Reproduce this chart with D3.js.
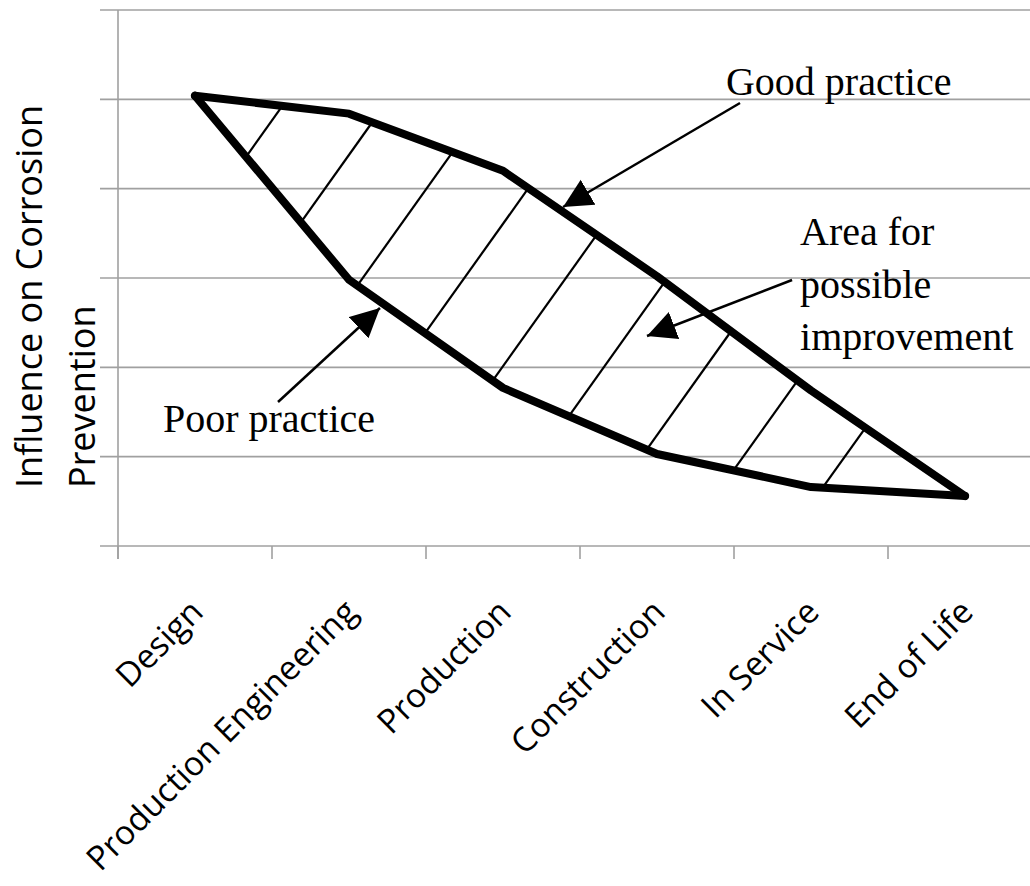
<!DOCTYPE html>
<html><head><meta charset="utf-8">
<script src="https://cdn.jsdelivr.net/npm/d3@7"></script>
<style>html,body{margin:0;padding:0;background:#fff}</style>
</head><body>
<svg id="c" width="1030" height="886"></svg>
<script>
// ---- data ----
const categories = ["Design", "Production Engineering", "Production", "Construction", "In Service", "End of Life"];
const goodPractice = [5.04, 4.84, 4.20, 3.02, 1.74, 0.56];
const poorPractice = [5.04, 2.98, 1.77, 1.03, 0.66, 0.56];
const yTicks = [0, 1, 2, 3, 4, 5, 6];
const yTitleLines = ["Influence on Corrosion", "Prevention"];
const annoGoodText = ["Good practice"];
const annoAreaText = ["Area for", "possible", "improvement"];
const annoPoorText = ["Poor practice"];

// ---- layout ----
const W = 1030, H = 886;
const svg = d3.select("#c");
const x = d3.scaleBand().domain(categories).range([118, 1042]).padding(0);
const cx = c => x(c) + x.bandwidth() / 2;
const xi = d3.scaleLinear().domain([0, categories.length - 1]).range([cx(categories[0]), cx(categories[categories.length - 1])]);
const y = d3.scaleLinear().domain([0, 6]).range([546, 10]);

const grid = "#a0a0a0";
// gridlines + y ticks
svg.append("g").selectAll("line").data(yTicks).join("line")
  .attr("x1", 100).attr("x2", W).attr("y1", d => y(d)).attr("y2", d => y(d))
  .attr("stroke", grid).attr("stroke-width", 1.6);
// y axis line
svg.append("line").attr("x1", 118).attr("x2", 118).attr("y1", y(6)).attr("y2", y(0) + 13)
  .attr("stroke", grid).attr("stroke-width", 1.6);
// x ticks at band edges
svg.append("g").selectAll("line").data(categories).join("line")
  .attr("x1", d => x(d)).attr("x2", d => x(d)).attr("y1", y(0)).attr("y2", y(0) + 13)
  .attr("stroke", grid).attr("stroke-width", 1.6);

// x labels
svg.append("g").selectAll("text").data(categories).join("text")
  .attr("transform", d => `translate(${cx(d) + 10},${y(0) + 68}) rotate(-45)`)
  .attr("text-anchor", "end")
  .attr("font-family", "'Open Sans', sans-serif").attr("font-size", 33.5).attr("fill", "#000")
  .text(d => d);

// y title
svg.append("g").selectAll("text").data(yTitleLines).join("text")
  .attr("transform", (d, i) => `translate(${42 + i * 53},488) rotate(-90)`)
  .attr("text-anchor", "start")
  .attr("font-family", "'Open Sans', sans-serif").attr("font-size", 36).attr("fill", "#000")
  .text(d => d);

// ---- hatching between the two practice lines ----
const upperPts = goodPractice.map((v, i) => [xi(i), y(v)]);
const lowerPts = poorPractice.map((v, i) => [xi(i), y(v)]);
const hAng = 35.5 * Math.PI / 180, nx = Math.cos(hAng), ny = Math.sin(hAng);
const proj = p => nx * p[0] + ny * p[1];
function crossing(pts, c) {
  for (let i = 0; i < pts.length - 1; i++) {
    const u0 = proj(pts[i]), u1 = proj(pts[i + 1]);
    if (u0 !== u1 && (u0 - c) * (u1 - c) <= 0) {
      const t = (c - u0) / (u1 - u0);
      return [pts[i][0] + t * (pts[i + 1][0] - pts[i][0]), pts[i][1] + t * (pts[i + 1][1] - pts[i][1])];
    }
  }
  return null;
}
const u0 = proj(upperPts[0]);
const hatchOffsets = d3.range(9).map(k => u0 + 77 + k * 82.7);
const hatches = hatchOffsets.map(c => [crossing(lowerPts, c), crossing(upperPts, c)]).filter(h => h[0] && h[1]);
svg.append("g").selectAll("line").data(hatches).join("line")
  .attr("x1", d => d[0][0]).attr("y1", d => d[0][1]).attr("x2", d => d[1][0]).attr("y2", d => d[1][1])
  .attr("stroke", "#000").attr("stroke-width", 2.2);

// ---- practice lines ----
const line = d3.line().x((d, i) => xi(i)).y(d => y(d));
[goodPractice, poorPractice].forEach(s => {
  svg.append("path").attr("d", line(s)).attr("fill", "none").attr("stroke", "#000")
    .attr("stroke-width", 8).attr("stroke-linejoin", "round").attr("stroke-linecap", "round");
});

// ---- annotations (in data coordinates: category index, value) ----
const defs = svg.append("defs");
defs.append("marker").attr("id", "ah").attr("markerUnits", "userSpaceOnUse")
  .attr("viewBox", "0 -15 30 30").attr("refX", 29).attr("refY", 0)
  .attr("markerWidth", 30).attr("markerHeight", 30).attr("orient", "auto")
  .append("path").attr("d", "M0,-14.5L29,0L0,14.5Z").attr("fill", "#000");

const arrows = [
  { from: [3.539, 4.959], to: [2.390, 3.795] },
  { from: [3.877, 2.978], to: [2.935, 2.351] },
  { from: [0.539, 1.612], to: [1.201, 2.664] }
];
svg.append("g").selectAll("line").data(arrows).join("line")
  .attr("x1", d => xi(d.from[0])).attr("y1", d => y(d.from[1]))
  .attr("x2", d => xi(d.to[0])).attr("y2", d => y(d.to[1]))
  .attr("stroke", "#000").attr("stroke-width", 2.5).attr("marker-end", "url(#ah)");

const serif = "'Liberation Serif', 'Times New Roman', serif";
function annoText(lines, ix, v, lh) {
  svg.append("g").selectAll("text").data(lines).join("text")
    .attr("x", xi(ix)).attr("y", (d, i) => y(v) + i * lh)
    .attr("font-family", serif).attr("font-size", 40).attr("fill", "#000")
    .text(d => d);
}
annoText(annoGoodText, 3.448, 5.049, 0);
annoText(annoAreaText, 3.929, 3.369, 52.5);
annoText(annoPoorText, -0.208, 1.276, 0);
</script>
</body></html>
